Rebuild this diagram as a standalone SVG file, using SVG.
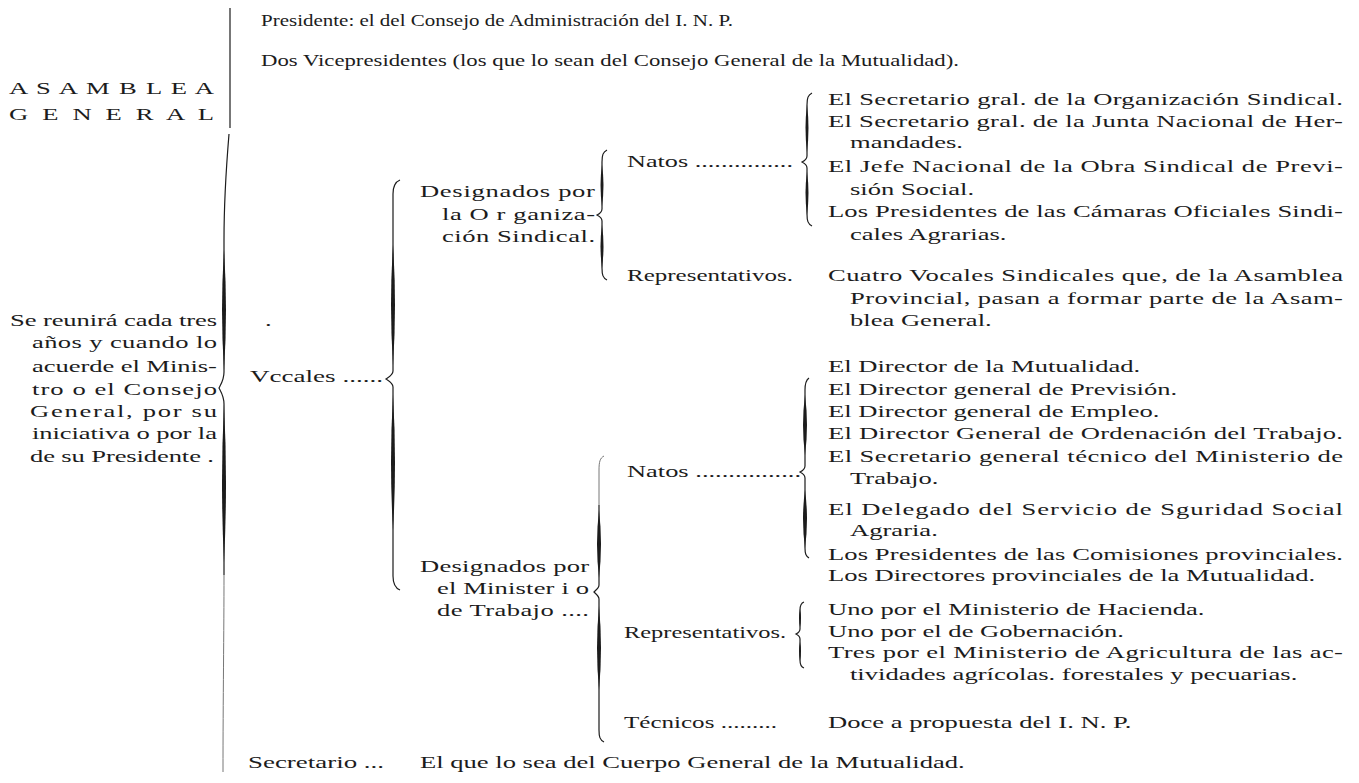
<svg xmlns="http://www.w3.org/2000/svg" width="1359" height="783" viewBox="0 0 1359 783">
<style>
text{font-family:"Liberation Serif","Times New Roman",serif;font-size:17.5px;fill:#1c1c1c}
.br{fill:none;stroke:#1c1c1c;stroke-width:1.2}
.faint{fill:none;stroke:#777777;stroke-width:1}
.lens{fill:#1c1c1c;stroke:none}
</style>
<rect width="1359" height="783" fill="#ffffff"/>
<g id="connectors">
  <!-- big left brace -->
  <path class="br" d="M230,8 L230,128"/>
  <path class="br" d="M229,134 C226,170 224,200 224,240 L224,372 C224,380 221,384 219,388 C221,392 224,396 224,404 L224,575"/>
  <path class="faint" d="M224,575 C224,630 223,700 223,772"/>
  <path class="lens" d="M224,250 Q220,310 224,370 Q228,310 224,250Z"/>
  <path class="lens" d="M224,405 Q220,482 224,562 Q228,482 224,405Z"/>
  <!-- vocales brace -->
  <path class="br" d="M400,180 C395,182 393,186 393,194 L393,371 C393,375 389,377 386,379 C389,381 393,383 393,387 L393,576 C393,584 395,588 400,590"/>
  <path class="lens" d="M393,245 Q389,305 393,365 Q397,305 393,245Z"/>
  <path class="lens" d="M393,395 Q389,462 393,530 Q397,462 393,395Z"/>
  <!-- designados org brace -->
  <path class="br" d="M607,150 C603,152 602,155 602,162 L602,209 C602,212 599,214 597,215 C599,216 602,218 602,221 L602,268 C602,275 603,278 607,280"/>
  <path class="lens" d="M602,165 Q599,185 602,206 Q605,185 602,165Z"/>
  <path class="lens" d="M602,225 Q599,246 602,268 Q605,246 602,225Z"/>
  <!-- natos org brace -->
  <path class="br" d="M812,93 C808,95 807,98 807,105 L807,156 C807,159 804,161 802,162 C804,163 807,165 807,168 L807,214 C807,221 808,224 812,226"/>
  <path class="lens" d="M807,105 Q804,128 807,152 Q810,128 807,105Z"/>
  <path class="lens" d="M807,172 Q804,193 807,215 Q810,193 807,172Z"/>
  <!-- natos ministerio brace -->
  <path class="br" d="M809,378 C806,380 805,383 805,390 L805,466 C805,469 802,471 800,472 C802,473 805,475 805,478 L805,548 C805,554 806,556 809,558"/>
  <path class="lens" d="M805,395 Q801,425 805,455 Q809,425 805,395Z"/>
  <path class="lens" d="M805,490 Q801,519 805,548 Q809,519 805,490Z"/>
  <!-- representativos ministerio brace -->
  <path class="br" d="M804,602 C801,603 800,605 800,610 L800,629 C800,631 798,633 796,634 C798,635 800,637 800,639 L800,660 C800,665 801,667 804,668"/>
  <path class="lens" d="M800,609 Q798,618 800,627 Q802,618 800,609Z"/>
  <path class="lens" d="M800,642 Q798,651 800,661 Q802,651 800,642Z"/>
  <!-- designados ministerio brace -->
  <path class="faint" d="M604,456 C600,458 599,462 599,470 L599,505"/>
  <path class="br" d="M599,505 L599,585 C599,588 596,590 594,592 C596,594 599,596 599,599 L599,730 C599,737 600,740 604,742"/>
  <path class="lens" d="M599,510 Q595,544 599,578 Q603,544 599,510Z"/>
  <path class="lens" d="M599,606 Q595,648 599,690 Q603,648 599,606Z"/>
</g>
<g id="asamblea-general" transform="scale(1.52,1)">
  <text x="5.92" y="94" textLength="134.9" lengthAdjust="spacing">A S A M B L E A</text>
  <text x="5.92" y="120" textLength="134.9" lengthAdjust="spacing">G E N E R A L</text>
</g>
<g id="presidente">
  <text x="261" y="26" textLength="472" lengthAdjust="spacingAndGlyphs">Presidente: el del Consejo de Administración del I. N. P.</text>
</g>
<g id="vicepresidentes">
  <text x="261" y="66" textLength="698" lengthAdjust="spacingAndGlyphs">Dos Vicepresidentes (los que lo sean del Consejo General de la Mutualidad).</text>
</g>
<g id="reunion" transform="scale(1.52,1)">
  <text x="6.58" y="326" textLength="136.2" lengthAdjust="spacing">Se reunirá cada tres</text>
  <text x="21.05" y="348" textLength="121.7" lengthAdjust="spacing">años y cuando lo</text>
  <text x="21.05" y="372" textLength="121.7" lengthAdjust="spacing">acuerde el Minis-</text>
  <text x="21.05" y="395" textLength="121.7" lengthAdjust="spacing">tro o el Consejo</text>
  <text x="19.74" y="417" textLength="123" lengthAdjust="spacing">General, por su</text>
  <text x="21.05" y="439" textLength="121.7" lengthAdjust="spacing">iniciativa o por la</text>
  <text x="19.74" y="462" textLength="121.05" lengthAdjust="spacing">de su Presidente .</text>
</g>
<g id="vocales" transform="scale(1.52,1)">
  <text x="174.34" y="326">.</text>
  <text x="164.47" y="382" textLength="87.5" lengthAdjust="spacingAndGlyphs">Vccales ......</text>
</g>
<g id="designados-org" transform="scale(1.52,1)">
  <text x="276.32" y="197" textLength="115.1" lengthAdjust="spacing">Designados por</text>
  <text x="290.79" y="220" textLength="100.7" lengthAdjust="spacing">la O r ganiza-</text>
  <text x="290.79" y="242" textLength="100.7" lengthAdjust="spacing">ción Sindical.</text>
</g>
<g id="natos-org" transform="scale(1.52,1)">
  <text x="412.5" y="167" textLength="109.2" lengthAdjust="spacingAndGlyphs">Natos ...............</text>
</g>
<g id="natos-org-miembros" transform="scale(1.52,1)">
  <text x="544.74" y="105" textLength="338.8" lengthAdjust="spacing">El Secretario gral. de la Organización Sindical.</text>
  <text x="544.74" y="127" textLength="338.8" lengthAdjust="spacing">El Secretario gral. de la Junta Nacional de Her-</text>
  <text x="559.21" y="148">mandades.</text>
  <text x="544.74" y="172" textLength="338.8" lengthAdjust="spacing">El Jefe Nacional de la Obra Sindical de Previ-</text>
  <text x="559.21" y="195">sión Social.</text>
  <text x="544.74" y="217" textLength="338.8" lengthAdjust="spacing">Los Presidentes de las Cámaras Oficiales Sindi-</text>
  <text x="559.21" y="240">cales Agrarias.</text>
</g>
<g id="representativos-org" transform="scale(1.52,1)">
  <text x="412.5" y="281" textLength="109.2" lengthAdjust="spacingAndGlyphs">Representativos.</text>
</g>
<g id="representativos-org-miembros" transform="scale(1.52,1)">
  <text x="544.74" y="281" textLength="338.8" lengthAdjust="spacing">Cuatro Vocales Sindicales que, de la Asamblea</text>
  <text x="559.21" y="304" textLength="324.3" lengthAdjust="spacing">Provincial, pasan a formar parte de la Asam-</text>
  <text x="559.21" y="326">blea General.</text>
</g>
<g id="designados-ministerio" transform="scale(1.52,1)">
  <text x="276.32" y="572" textLength="111.2" lengthAdjust="spacing">Designados por</text>
  <text x="287.5" y="594" textLength="100" lengthAdjust="spacing">el Minister i o</text>
  <text x="287.5" y="616" textLength="100" lengthAdjust="spacing">de Trabajo ....</text>
</g>
<g id="natos-ministerio" transform="scale(1.52,1)">
  <text x="412.5" y="477" textLength="114.5" lengthAdjust="spacingAndGlyphs">Natos ................</text>
</g>
<g id="natos-ministerio-miembros" transform="scale(1.52,1)">
  <text x="544.74" y="372">El Director de la Mutualidad.</text>
  <text x="544.74" y="395">El Director general de Previsión.</text>
  <text x="544.74" y="417">El Director general de Empleo.</text>
  <text x="544.74" y="439" textLength="338.8" lengthAdjust="spacing">El Director General de Ordenación del Trabajo.</text>
  <text x="544.74" y="462" textLength="338.8" lengthAdjust="spacing">El Secretario general técnico del Ministerio de</text>
  <text x="559.21" y="484">Trabajo.</text>
  <text x="544.74" y="515" textLength="338.8" lengthAdjust="spacing">El Delegado del Servicio de Sguridad Social</text>
  <text x="559.21" y="536">Agraria.</text>
  <text x="544.74" y="560" textLength="338.8" lengthAdjust="spacing">Los Presidentes de las Comisiones provinciales.</text>
  <text x="544.74" y="581">Los Directores provinciales de la Mutualidad.</text>
</g>
<g id="representativos-ministerio" transform="scale(1.52,1)">
  <text x="410.5" y="638" textLength="106.6" lengthAdjust="spacingAndGlyphs">Representativos.</text>
</g>
<g id="representativos-ministerio-miembros" transform="scale(1.52,1)">
  <text x="544.74" y="615">Uno por el Ministerio de Hacienda.</text>
  <text x="544.74" y="637">Uno por el de Gobernación.</text>
  <text x="544.74" y="658" textLength="338.8" lengthAdjust="spacing">Tres por el Ministerio de Agricultura de las ac-</text>
  <text x="559.21" y="680">tividades agrícolas. forestales y pecuarias.</text>
</g>
<g id="tecnicos" transform="scale(1.52,1)">
  <text x="410.5" y="728" textLength="100.7" lengthAdjust="spacingAndGlyphs">Técnicos .........</text>
  <text x="544.74" y="728">Doce a propuesta del I. N. P.</text>
</g>
<g id="secretario" transform="scale(1.52,1)">
  <text x="163.16" y="768" textLength="89.5" lengthAdjust="spacingAndGlyphs">Secretario ...</text>
  <text x="276.32" y="768">El que lo sea del Cuerpo General de la Mutualidad.</text>
</g>
</svg>
